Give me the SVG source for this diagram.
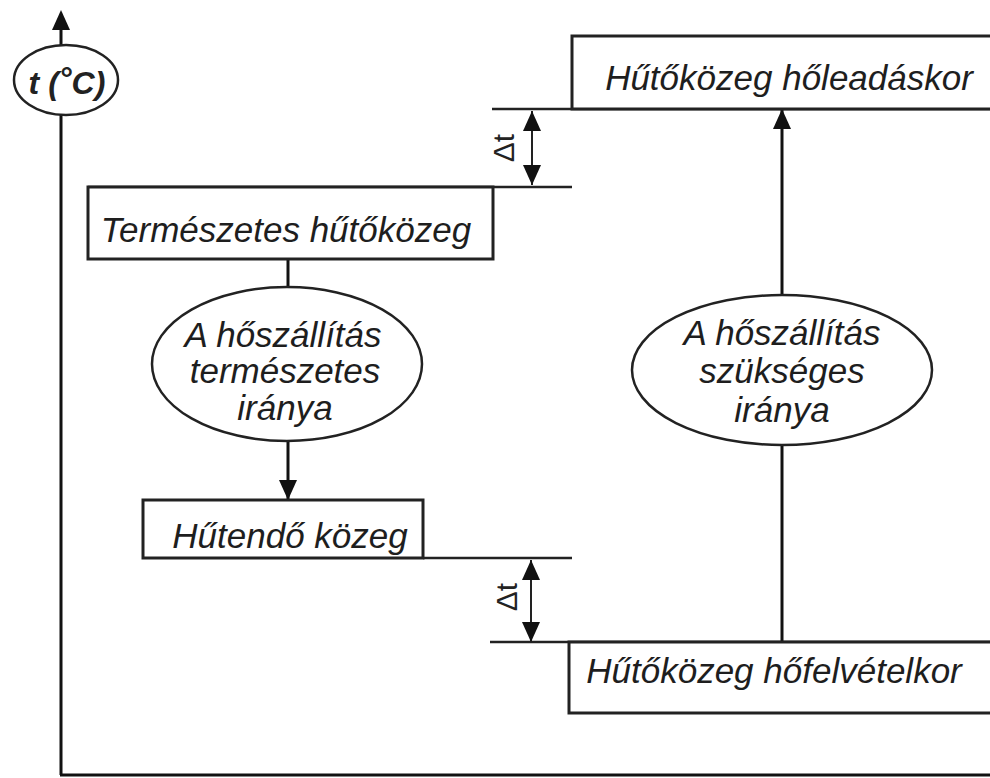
<svg xmlns="http://www.w3.org/2000/svg" width="990" height="778" viewBox="0 0 990 778">
<defs>
<style>
.box{fill:#fff;stroke:#222;stroke-width:3}
.oval{fill:#fff;stroke:#222;stroke-width:2.5}
.ln{fill:none;stroke:#222;stroke-width:2.5}
.conn{fill:none;stroke:#111;stroke-width:3}
.dim{fill:none;stroke:#222;stroke-width:2}
.lbl{font-family:"Liberation Sans",Arial,sans-serif;font-style:italic;font-size:35px;fill:#1e1e1e}
.dt{font-family:"Liberation Sans",Arial,sans-serif;font-size:30px;fill:#222}
.ax{font-family:"Liberation Sans",Arial,sans-serif;font-style:italic;font-weight:bold;font-size:32px;fill:#222}
</style>
<marker id="arr" markerUnits="userSpaceOnUse" markerWidth="20" markerHeight="18" refX="20" refY="9" orient="auto-start-reverse" viewBox="0 0 20 18">
<path d="M0,0 L20,9 L0,18 z" fill="#111"/>
</marker>
</defs>
<rect width="990" height="778" fill="#fff"/>

<g id="axis">
<line class="conn" x1="61" y1="28" x2="61" y2="775"/>
<line class="conn" x1="60" y1="775" x2="990" y2="775"/>
<path d="M61,10 L70,30 L52,30 z" fill="#111"/>
</g>
<g id="axis-label">
<ellipse class="oval" cx="66" cy="80" rx="52" ry="35"/>
<text class="ax" x="67" y="94" text-anchor="middle">t (<tspan dy="-5">°</tspan><tspan dy="5">C)</tspan></text>
</g>

<g id="connectors">
<line class="ln" x1="492" y1="109" x2="990" y2="109"/>
<line class="ln" x1="88" y1="187" x2="572" y2="187"/>
<line class="ln" x1="423" y1="558" x2="572" y2="558"/>
<line class="ln" x1="490" y1="642" x2="990" y2="642"/>
<line class="dim" x1="532" y1="111" x2="532" y2="185" marker-start="url(#arr)" marker-end="url(#arr)"/>
<line class="dim" x1="531" y1="560" x2="531" y2="642" marker-start="url(#arr)" marker-end="url(#arr)"/>
<line class="conn" x1="288" y1="259" x2="288" y2="287"/>
<line class="conn" x1="288" y1="441" x2="288" y2="500" marker-end="url(#arr)"/>
<line class="conn" x1="782" y1="642" x2="782" y2="445"/>
<line class="conn" x1="782" y1="295" x2="782" y2="109" marker-end="url(#arr)"/>
</g>

<g id="dt-top">
<text class="dt" transform="translate(514,148) rotate(-90)" text-anchor="middle">Δt</text>
</g>
<g id="dt-bottom">
<text class="dt" transform="translate(517,597) rotate(-90)" text-anchor="middle">Δt</text>
</g>

<g id="hutokozeg-holeadaskor">
<path class="box" d="M992,36 H572 V109 H992"/>
<text class="lbl" x="789" y="90" text-anchor="middle">Hűtőközeg hőleadáskor</text>
</g>

<g id="termeszetes-hutokozeg">
<rect class="box" x="88" y="187" width="405" height="72"/>
<text class="lbl" x="286" y="242" text-anchor="middle">Természetes hűtőközeg</text>
</g>

<g id="termeszetes-irany">
<ellipse class="oval" cx="287" cy="364" rx="135" ry="77"/>
<text class="lbl" x="283" y="347" text-anchor="middle">A hőszállítás</text>
<text class="lbl" x="285" y="383" text-anchor="middle">természetes</text>
<text class="lbl" x="285" y="420" text-anchor="middle">iránya</text>
</g>

<g id="hutendo-kozeg">
<rect class="box" x="143" y="500" width="280" height="58"/>
<text class="lbl" x="290" y="548" text-anchor="middle">Hűtendő közeg</text>
</g>

<g id="szukseges-irany">
<ellipse class="oval" cx="782" cy="370" rx="150" ry="75"/>
<text class="lbl" x="782" y="345" text-anchor="middle">A hőszállítás</text>
<text class="lbl" x="782" y="383" text-anchor="middle">szükséges</text>
<text class="lbl" x="782" y="422" text-anchor="middle">iránya</text>
</g>

<g id="hutokozeg-hofelvetelkor">
<path class="box" d="M992,642 H569 V713 H992"/>
<text class="lbl" x="774" y="683" text-anchor="middle">Hűtőközeg hőfelvételkor</text>
</g>
</svg>
